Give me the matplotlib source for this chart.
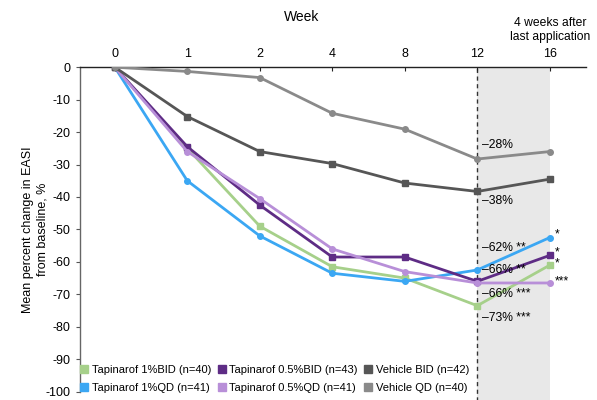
import matplotlib
matplotlib.use("Agg")
import matplotlib.pyplot as plt
from matplotlib.lines import Line2D
from matplotlib.patches import Rectangle
import matplotlib.transforms as mtransforms

plt.rcParams['font.family'] = ['Liberation Sans', 'DejaVu Sans']

weeks = ["0", "1", "2", "4", "8", "12", "16"]
tap1_bid = [0, -25, -49, -61.5, -65, -73.5, -61]
tap1_qd = [0, -35, -52, -63.5, -66, -62.5, -52.5]
tap05_bid = [0, -24.5, -42.5, -58.5, -58.5, -66, -58]
tap05_qd = [0, -26, -40.5, -56, -63, -66.5, -66.5]
veh_bid = [0, -15.2, -26, -29.7, -35.7, -38.3, -34.5]
veh_qd = [0, -1.3, -3.2, -14.2, -19.1, -28.3, -26]

labels = ["Tapinarof 1%BID (n=40)", "Tapinarof 1%QD (n=41)",
          "Tapinarof 0.5%BID (n=43)", "Tapinarof 0.5%QD (n=41)",
          "Vehicle BID (n=42)", "Vehicle QD (n=40)"]
week12_labels = ["–28%", "–38%", "–62% **", "–66% **", "–66% ***", "–73% ***"]
week16_marks = ["*", "*", "*", "***"]

c_green = "#A6D08A"
c_blue = "#3BA7F3"
c_dpurple = "#5E2C85"
c_lpurple = "#B88FD8"
c_dgrey = "#565656"
c_grey = "#8A8A8A"

series = [
    (tap1_bid, c_green, "s"),
    (tap1_qd, c_blue, "o"),
    (tap05_bid, c_dpurple, "s"),
    (tap05_qd, c_lpurple, "o"),
    (veh_bid, c_dgrey, "s"),
    (veh_qd, c_grey, "o"),
]

fig = plt.figure(figsize=(5.97, 4.0), dpi=100)
ax = fig.add_axes([0.134, 0.0208, 0.8476, 0.8112])
x = list(range(len(weeks)))

# shaded follow-up region and dashed line (extend to bottom of figure)
trans = mtransforms.blended_transform_factory(ax.transData, ax.transAxes)
ax.add_patch(Rectangle((5, -0.03), 1.0, 1.03, transform=trans, facecolor="#E8E8E8",
                       edgecolor="none", clip_on=False, zorder=0))
ax.add_line(Line2D([5, 5], [-0.03, 1.0], transform=trans, color="#333333",
                   linestyle=(0, (3, 2.5)), linewidth=1.0, clip_on=False, zorder=1))

order = [5, 4, 1, 0, 3, 2]
for i in order:
    vals, col, mk = series[i]
    ax.plot(x, vals, color=col, marker=mk, markersize=4, linewidth=2.0, zorder=3 + i)

ax.set_xlim(-0.48, 6.5)
ax.set_ylim(-100, 0)
ax.xaxis.tick_top()
ax.set_xticks(x)
ax.set_xticklabels(weeks, fontsize=9)
ax.tick_params(axis='x', direction='in', length=3, pad=5, color="#222222", width=0.8)
ax.set_yticks(range(-100, 1, 10))
ax.set_yticklabels([str(v) for v in range(-100, 1, 10)], fontsize=9)
ax.tick_params(axis='y', direction='out', length=3, pad=4, color="#555555", width=0.8)

ax.spines['bottom'].set_visible(False)
ax.spines['right'].set_visible(False)
ax.spines['top'].set_color("#222222")
ax.spines['top'].set_linewidth(1.0)
ax.spines['left'].set_color("#666666")
ax.spines['left'].set_linewidth(1.0)
ax.set_facecolor("none")

ax.set_ylabel("Mean percent change in EASI\nfrom baseline, %", fontsize=9, labelpad=-2,
              linespacing=1.25)
fig.text(0.506, 0.958, "Week", fontsize=10, ha='center', va='center')
ax.text(6.0, 1.075, "4 weeks after\nlast application", transform=trans, fontsize=8.7,
        ha='center', va='bottom', linespacing=1.25)

# week-12 annotations
ann_y = [-24, -41.2, -55.7, -62.5, -70.0, -77.3]
for txt, yv in zip(week12_labels, ann_y):
    ax.text(5.07, yv, txt, fontsize=8.7, ha='left', va='center', zorder=20)

# week-16 significance marks
sig_y = [-51.5, -57.0, -60.5, -66.0]
for txt, yv in zip(week16_marks, sig_y):
    ax.text(6.07, yv, txt, fontsize=8.7, ha='left', va='center', zorder=20)

handles = [Line2D([], [], linestyle='none', marker='s', markersize=5.5,
                  color=series[i][1]) for i in range(6)]
leg = ax.legend(handles, labels, loc='lower left', bbox_to_anchor=(0.0, -0.008), ncol=3,
                frameon=False, fontsize=8, handlelength=0.6, handletextpad=0.4,
                columnspacing=0.6, labelspacing=0.75, borderaxespad=0.0, borderpad=0.1)

fig.savefig("out.png", dpi=100)
